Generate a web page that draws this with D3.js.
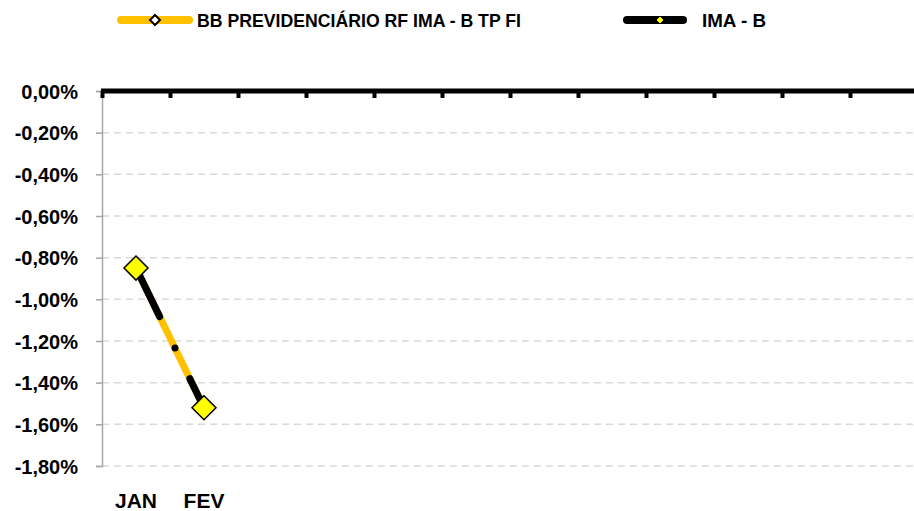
<!DOCTYPE html>
<html>
<head>
<meta charset="utf-8">
<script src="https://cdn.jsdelivr.net/npm/d3@7"></script>
<style>
  body { margin: 0; background: #fff; }
  svg { display: block; }
  text { font-family: "Liberation Sans", Arial, sans-serif; font-weight: bold; fill: #000; }
</style>
</head>
<body>
<svg id="chart" width="914" height="511"></svg>
<script>
// data
var months = ["JAN", "FEV", "MAR", "ABR", "MAI", "JUN", "JUL", "AGO", "SET", "OUT", "NOV", "DEZ"];
var monthLabels = ["JAN", "FEV", "", "", "", "", "", "", "", "", "", ""];
var fundName = "BB PREVIDENCIÁRIO RF IMA - B TP FI";
var benchName = "IMA - B";
var fundValues = [-0.0085, -0.0152];
var benchValues = [-0.0085, -0.0152];
var yTicks = [0, -0.002, -0.004, -0.006, -0.008, -0.010, -0.012, -0.014, -0.016, -0.018];

var W = 914, H = 511;
// plot box (window.top is reserved, so no "top" here)
var pLeft = 102, pTop = 91, pBottom = 466, bandW = 68;
var orange = "#FFC000", yellow = "#FFFF00";

var svg = d3.select("#chart");

var x = d3.scaleBand().domain(months).range([pLeft, pLeft + bandW * months.length]).padding(0);
var y = d3.scaleLinear().domain([-0.018, 0]).range([pBottom, pTop]);

var loc = d3.formatLocale({ decimal: ",", thousands: ".", grouping: [3], currency: ["R$", ""], minus: "-" });
var fmt = loc.format(".2%");

// dashed grid lines
svg.append("g").selectAll("line")
  .data(yTicks.filter(function (d) { return d !== 0; }))
  .join("line")
  .attr("x1", pLeft).attr("x2", W)
  .attr("y1", function (d) { return y(d); }).attr("y2", function (d) { return y(d); })
  .attr("stroke", "#d9d9d9").attr("stroke-width", 1.5).attr("stroke-dasharray", "7,5");

// y axis
var yAxis = svg.append("g")
  .attr("transform", "translate(" + pLeft + ",0)")
  .call(d3.axisLeft(y).tickValues(yTicks).tickFormat(fmt).tickSize(6).tickPadding(18));
yAxis.attr("font-family", null).attr("font-size", null);
yAxis.select(".domain").attr("stroke", "#a6a6a6").attr("stroke-width", 1.5);
yAxis.selectAll(".tick line").attr("stroke", "#a6a6a6").attr("stroke-width", 1.5);
yAxis.selectAll(".tick text").attr("font-size", 20).attr("dy", "0.35em");

// zero line with category ticks
var xAxis = svg.append("g")
  .attr("transform", "translate(0," + y(0) + ")");
xAxis.append("line")
  .attr("x1", pLeft - 1).attr("x2", W)
  .attr("stroke", "#000").attr("stroke-width", 5);
xAxis.selectAll(".ctick")
  .data(months)
  .join("line")
  .attr("class", "ctick")
  .attr("x1", function (d) { return x(d) + 0.5; }).attr("x2", function (d) { return x(d) + 0.5; })
  .attr("y1", 0).attr("y2", 7)
  .attr("stroke", "#000").attr("stroke-width", 4);

// category labels
svg.append("g").selectAll("text")
  .data(months)
  .join("text")
  .attr("x", function (d) { return x(d) + x.bandwidth() / 2; })
  .attr("y", 508)
  .attr("text-anchor", "middle")
  .attr("font-size", 21)
  .text(function (d, i) { return monthLabels[i]; });

var line = d3.line()
  .x(function (d, i) { return x(months[i]) + x.bandwidth() / 2; })
  .y(function (d) { return y(d); });

function diamond(r) {
  return "M0," + (-r) + "L" + r + ",0L0," + r + "L" + (-r) + ",0Z";
}

// fund series
svg.append("path")
  .datum(fundValues)
  .attr("d", line)
  .attr("fill", "none").attr("stroke", orange).attr("stroke-width", 7);
svg.append("g").selectAll("path")
  .data(fundValues)
  .join("path")
  .attr("transform", function (d, i) { return "translate(" + (x(months[i]) + x.bandwidth() / 2) + "," + y(d) + ")"; })
  .attr("d", diamond(5))
  .attr("fill", "#fff").attr("stroke", "#000").attr("stroke-width", 1.5);

// benchmark series (long dash - dot)
svg.append("path")
  .datum(benchValues)
  .attr("d", line)
  .attr("fill", "none").attr("stroke", "#000").attr("stroke-width", 7)
  .attr("stroke-linecap", "round").attr("stroke-dasharray", "54,35,0,34");
svg.append("g").selectAll("path")
  .data(benchValues)
  .join("path")
  .attr("transform", function (d, i) { return "translate(" + (x(months[i]) + x.bandwidth() / 2) + "," + y(d) + ")"; })
  .attr("d", diamond(12))
  .attr("fill", yellow).attr("stroke", "#000").attr("stroke-width", 1.5);

// legend
var lg = svg.append("g");
lg.append("line").attr("x1", 121).attr("x2", 189).attr("y1", 20).attr("y2", 20)
  .attr("stroke", orange).attr("stroke-width", 8).attr("stroke-linecap", "round");
lg.append("path").attr("transform", "translate(155,20)").attr("d", diamond(5))
  .attr("fill", "#fff").attr("stroke", "#000").attr("stroke-width", 2);
lg.append("text").attr("x", 197).attr("y", 26.5).attr("font-size", 18)
  .attr("textLength", 324).attr("lengthAdjust", "spacingAndGlyphs").text(fundName);

lg.append("line").attr("x1", 627).attr("x2", 683).attr("y1", 20).attr("y2", 20)
  .attr("stroke", "#000").attr("stroke-width", 8).attr("stroke-linecap", "round");
lg.append("path").attr("transform", "translate(660,20)").attr("d", diamond(4))
  .attr("fill", yellow).attr("stroke", "#000").attr("stroke-width", 1);
lg.append("text").attr("x", 702).attr("y", 27).attr("font-size", 18)
  .attr("textLength", 64).attr("lengthAdjust", "spacingAndGlyphs").text(benchName);
</script>
</body>
</html>
